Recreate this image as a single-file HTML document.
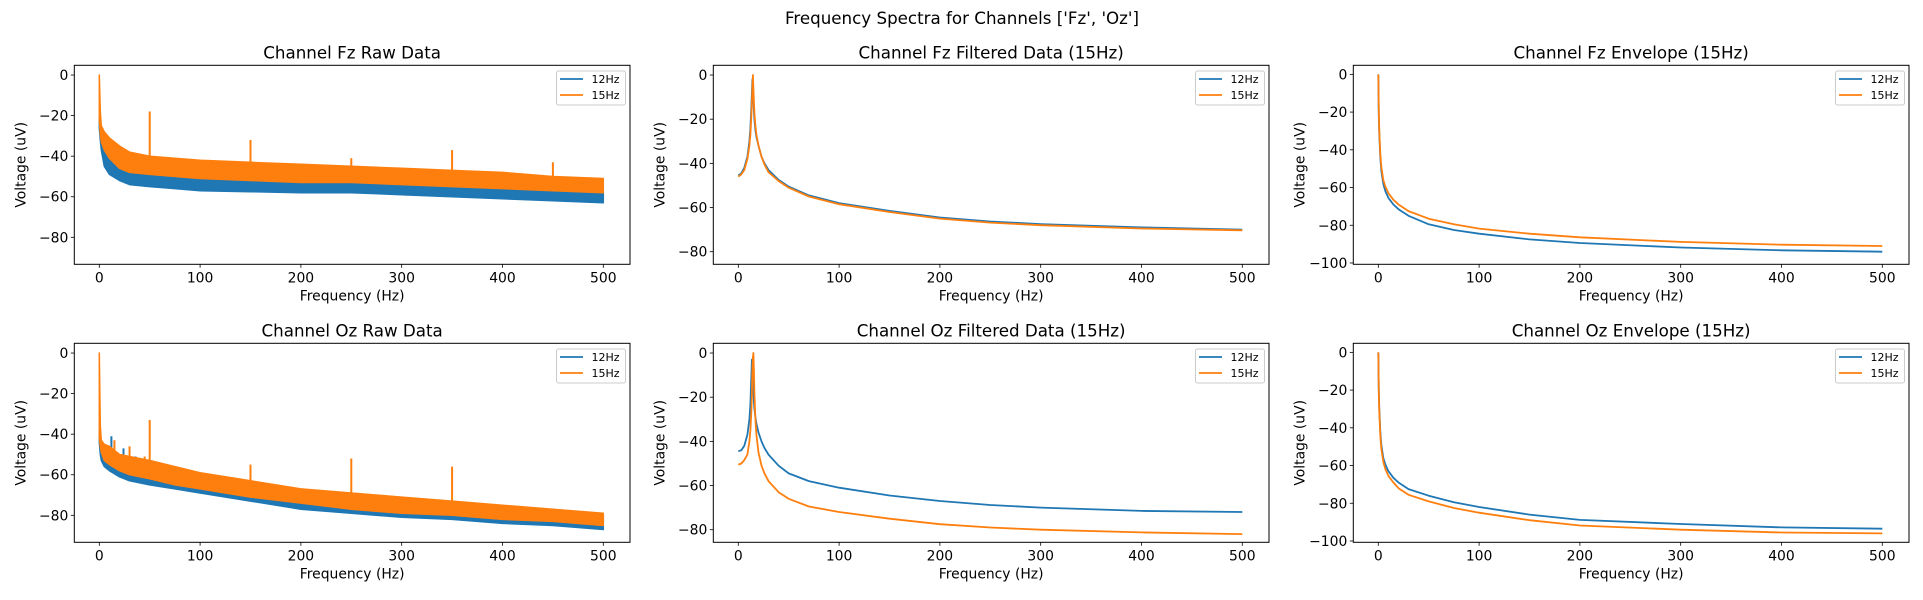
<!DOCTYPE html>
<html><head><meta charset="utf-8">
<style>
html,body{margin:0;padding:0;background:#fff;}
svg{display:block;font-family:"DejaVu Sans","Liberation Sans",sans-serif;}
</style></head>
<body>
<svg id="fig" width="1923" height="600" viewBox="0 0 1923 600" xmlns="http://www.w3.org/2000/svg">
<rect width="1923" height="600" fill="#fff"/>
<text x="962" y="24" font-size="16.7" text-anchor="middle">Frequency Spectra for Channels ['Fz', 'Oz']</text>
</svg>
<script>
// ---- data ----
const xTicks = [0,100,200,300,400,500];
const yTicksRaw = [0,-20,-40,-60,-80];
const yTicksFilt = [0,-20,-40,-60,-80];
const yTicksEnv = [0,-20,-40,-60,-80,-100];
const seriesNames = ['12Hz','15Hz'];

// Raw data bands: frequency, lower, upper
const rawFreq = [0,1,2,5,10,20,30,50,75,100,150,200,250,300,350,400,450,500];
const fzRaw12Lo = [-26,-32,-37,-45,-49,-52,-54,-55,-56,-57,-57.5,-58,-58,-59,-60,-61,-62,-63];
const fzRaw12Hi = [-21,-27,-30,-34,-38,-44,-46,-47,-49,-50,-51,-52,-52,-53,-54,-55,-56,-57];
const fzRaw15Lo = [-22,-29,-33,-37,-41,-46,-48,-49,-50,-51,-52,-53,-53,-54,-55,-56,-57,-58];
const fzRaw15Hi = [0,-18,-25,-28,-31,-35,-38,-40,-41,-42,-43,-44,-45,-46,-47,-48,-50,-51];
const fzRaw15SpikeF = [50,150,250,350,450];
const fzRaw15SpikeV = [-18,-32,-41,-37,-43];
const ozRaw12Lo = [-44,-50,-53,-56,-58,-61,-63,-65,-67,-69,-73,-77,-79,-81,-82,-84,-85,-87];
const ozRaw12Hi = [-38,-43,-45,-48,-49,-52,-54,-56,-58,-60,-64,-68,-71,-73,-75,-77,-79,-80];
const ozRaw15Lo = [-42,-46,-49,-53,-55,-58,-60,-62,-65,-67,-71,-74,-77,-79,-80,-82,-83,-85];
const ozRaw15Hi = [0,-36,-43,-45,-46,-50,-51,-53,-56,-59,-63,-67,-69,-71,-73,-75,-77,-79];
const ozRaw12SpikeF = [12,24,36];
const ozRaw12SpikeV = [-41,-47,-51];
const ozRaw15SpikeF = [15,30,45,50,150,250,350,450];
const ozRaw15SpikeV = [-43,-46,-51,-33,-55,-52,-56,-77];

// Filtered
const filtFreq = [0,3,6,9,11,12,13,13.5,14,14.5,15,15.5,16,17,18,20,23,26,30,40,50,70,100,150,200,250,300,400,500];
const fzFilt12 = [-45.5,-44.5,-42,-37,-30,-24,-14,-8,-2,-6,-12,-16,-20,-25,-28,-32,-37,-40,-43,-47.5,-50.5,-54.5,-58,-61.5,-64.5,-66.3,-67.5,-69,-70];
const fzFilt15 = [-46,-45,-43,-38,-32,-27,-18,-12,-6,0,-6,-12,-17,-23,-27,-32,-37,-40.5,-44,-48,-51,-55,-58.5,-62,-65,-66.8,-68,-69.5,-70.3];
const ozFilt12 = [-44.5,-44,-42,-37,-30,-23,-10,-3,-8,-14,-18,-22,-25,-29,-32,-36,-40,-43,-46,-51,-54.5,-58,-61,-64.5,-67,-68.8,-70,-71.5,-72];
const ozFilt15 = [-50.5,-50,-48.5,-46,-40,-35,-26,-18,-8,-2,0,-8,-18,-30,-37,-45,-51,-54.5,-58,-63,-66,-69.5,-72,-75,-77.5,-79,-80,-81.2,-82];

// Envelope
const envFreq = [0,0.5,1,2,3,5,7,10,15,20,30,50,75,100,150,200,300,400,500];
const fzEnv12 = [0,-22,-32,-44,-51,-58,-62,-65.5,-69,-71.5,-75,-79.5,-82.5,-84.5,-87.5,-89.4,-91.8,-93.3,-94];
const fzEnv15 = [0,-20,-30,-42,-49,-56,-59.5,-63,-66.5,-69,-72.5,-76.5,-79.5,-81.8,-84.5,-86.4,-88.8,-90.3,-91];
const ozEnv12 = [0,-20,-30,-42,-49,-56,-59.5,-63,-66.5,-69,-72.5,-76,-79.5,-82,-86,-88.8,-91,-92.8,-93.5];
const ozEnv15 = [0,-22,-32,-44,-51,-58,-62,-65.5,-69,-72,-75.5,-79,-82.5,-85,-89,-91.8,-94,-95.5,-96];

// ---- drawing ----
const NS = 'http://www.w3.org/2000/svg';
const svg = document.getElementById('fig');
const C1 = '#1f77b4', C2 = '#ff7f0e';
function mk(tag, attrs, parent){
  const e = document.createElementNS(NS, tag);
  for (const k in attrs) e.setAttribute(k, attrs[k]);
  (parent||svg).appendChild(e);
  return e;
}
function panel(opt){
  const {left, top, w, h, xlim, ylim, yticks, title, key} = opt;
  const g = mk('g', {});
  
  
  const sx = v => left + (v - xlim[0]) / (xlim[1] - xlim[0]) * w;
  const sy = v => top + (ylim[1] - v) / (ylim[1] - ylim[0]) * h;
  const clipId = 'clip-' + key;
  const cp = mk('clipPath', {id: clipId}, g);
  mk('rect', {x: left, y: top, width: w, height: h}, cp);
  const plot = mk('g', {'clip-path': 'url(#' + clipId + ')'}, g);
  
  
  (opt.bands||[]).forEach((b, i) => {
    let d = '';
    b.f.forEach((f, j) => { d += (j ? 'L' : 'M') + sx(f).toFixed(1) + ',' + sy(b.hi[j]).toFixed(1); });
    for (let j = b.f.length - 1; j >= 0; j--) d += 'L' + sx(b.f[j]).toFixed(1) + ',' + sy(b.lo[j]).toFixed(1);
    d += 'Z';
    const p = mk('path', {d: d, fill: b.c, stroke: b.c, 'stroke-width': 1.5, 'stroke-linejoin': 'round'}, plot);
    
    
    (b.sf||[]).forEach((f, j) => {
      const base = interp(b.f, b.hi, f);
      const s = mk('line', {x1: sx(f), x2: sx(f), y1: sy(base), y2: sy(b.sv[j]), stroke: b.c, 'stroke-width': 2}, plot);
      
      
    });
  });
  (opt.lines||[]).forEach(l => {
    let d = '';
    l.f.forEach((f, j) => { d += (j ? 'L' : 'M') + sx(f).toFixed(1) + ',' + sy(l.v[j]).toFixed(1); });
    const p = mk('path', {d: d, fill: 'none', stroke: l.c, 'stroke-width': 1.8, 'stroke-linejoin': 'round'}, plot);
    
    
  });
  const fr = mk('rect', {x: left, y: top, width: w, height: h, fill: 'none', stroke: '#000', 'stroke-width': 1}, g);
  
  
  xTicks.forEach(t => {
    const x = sx(t);
    mk('line', {x1: x, x2: x, y1: top + h, y2: top + h + 3.5, stroke: '#000', 'stroke-width': 0.8}, g);
    const tx = mk('text', {x: x, y: top + h + 18, 'font-size': 13.9, 'text-anchor': 'middle'}, g);
    
    
    tx.textContent = t;
  });
  yticks.forEach(t => {
    const y = sy(t);
    mk('line', {x1: left - 3.5, x2: left, y1: y, y2: y, stroke: '#000', 'stroke-width': 0.8}, g);
    const tx = mk('text', {x: left - 6, y: y + 5, 'font-size': 13.9, 'text-anchor': 'end'}, g);
    
    
    tx.textContent = t < 0 ? '\u2212' + Math.abs(t) : t;
  });
  const xl = mk('text', {x: left + w / 2, y: top + h + 36, 'font-size': 13.9, 'text-anchor': 'middle'}, g);
  
  
  xl.textContent = 'Frequency (Hz)';
  const ylx = left - 49, yly = top + h / 2;
  const yl = mk('text', {x: ylx, y: yly, 'font-size': 13.9, 'text-anchor': 'middle', transform: 'rotate(-90 ' + ylx + ' ' + yly + ')'}, g);
  
  
  yl.textContent = 'Voltage (uV)';
  const tt = mk('text', {x: left + w / 2, y: top - 7, 'font-size': 16.7, 'text-anchor': 'middle'}, g);
  
  
  tt.textContent = title;
  const lg = mk('g', {}, g);
  
  
  const lx = left + w - 73.5, ly = top + 5.7;
  mk('rect', {x: lx, y: ly, width: 69, height: 34, rx: 2, fill: '#fff', 'fill-opacity': 0.8, stroke: '#ccc', 'stroke-width': 1}, lg);
  [C1, C2].forEach((c, i) => {
    const yy = ly + 8 + i * 16;
    const en = mk('g', {}, lg);
    
    
    mk('line', {x1: lx + 3.5, x2: lx + 26.5, y1: yy, y2: yy, stroke: c, 'stroke-width': 1.8}, en);
    const t = mk('text', {x: lx + 35, y: yy + 4, 'font-size': 11}, en);
    t.textContent = seriesNames[i];
  });
}
function interp(xs, ys, x){
  for (let i = 1; i < xs.length; i++) if (x <= xs[i]) {
    const t = (x - xs[i-1]) / (xs[i] - xs[i-1]); return ys[i-1] + t * (ys[i] - ys[i-1]);
  }
  return ys[ys.length - 1];
}
const W = 555.7, H = 199, XL = [-24.8, 526.5];
const lefts = [74.3, 713.3, 1353.3], tops = [65.3, 343.3];
const YL = [[-93.3, 4.8], [-85.7, 4.4], [-100.7, 4.8]];
panel({key:'fz-raw', left:lefts[0], top:tops[0], w:W, h:H, xlim:XL, ylim:YL[0], yticks:yTicksRaw, title:'Channel Fz Raw Data',
  bands:[{n:'12hz', c:C1, f:rawFreq, lo:fzRaw12Lo, hi:fzRaw12Hi},
         {n:'15hz', c:C2, f:rawFreq, lo:fzRaw15Lo, hi:fzRaw15Hi, sf:fzRaw15SpikeF, sv:fzRaw15SpikeV}]});
panel({key:'oz-raw', left:lefts[0], top:tops[1], w:W, h:H, xlim:XL, ylim:YL[0], yticks:yTicksRaw, title:'Channel Oz Raw Data',
  bands:[{n:'12hz', c:C1, f:rawFreq, lo:ozRaw12Lo, hi:ozRaw12Hi, sf:ozRaw12SpikeF, sv:ozRaw12SpikeV},
         {n:'15hz', c:C2, f:rawFreq, lo:ozRaw15Lo, hi:ozRaw15Hi, sf:ozRaw15SpikeF, sv:ozRaw15SpikeV}]});
panel({key:'fz-filtered', left:lefts[1], top:tops[0], w:W, h:H, xlim:XL, ylim:YL[1], yticks:yTicksFilt, title:'Channel Fz Filtered Data (15Hz)',
  lines:[{n:'12hz', c:C1, f:filtFreq, v:fzFilt12},{n:'15hz', c:C2, f:filtFreq, v:fzFilt15}]});
panel({key:'oz-filtered', left:lefts[1], top:tops[1], w:W, h:H, xlim:XL, ylim:YL[1], yticks:yTicksFilt, title:'Channel Oz Filtered Data (15Hz)',
  lines:[{n:'12hz', c:C1, f:filtFreq, v:ozFilt12},{n:'15hz', c:C2, f:filtFreq, v:ozFilt15}]});
panel({key:'fz-envelope', left:lefts[2], top:tops[0], w:W, h:H, xlim:XL, ylim:YL[2], yticks:yTicksEnv, title:'Channel Fz Envelope (15Hz)',
  lines:[{n:'12hz', c:C1, f:envFreq, v:fzEnv12},{n:'15hz', c:C2, f:envFreq, v:fzEnv15}]});
panel({key:'oz-envelope', left:lefts[2], top:tops[1], w:W, h:H, xlim:XL, ylim:YL[2], yticks:yTicksEnv, title:'Channel Oz Envelope (15Hz)',
  lines:[{n:'12hz', c:C1, f:envFreq, v:ozEnv12},{n:'15hz', c:C2, f:envFreq, v:ozEnv15}]});
</script>
</body></html>
